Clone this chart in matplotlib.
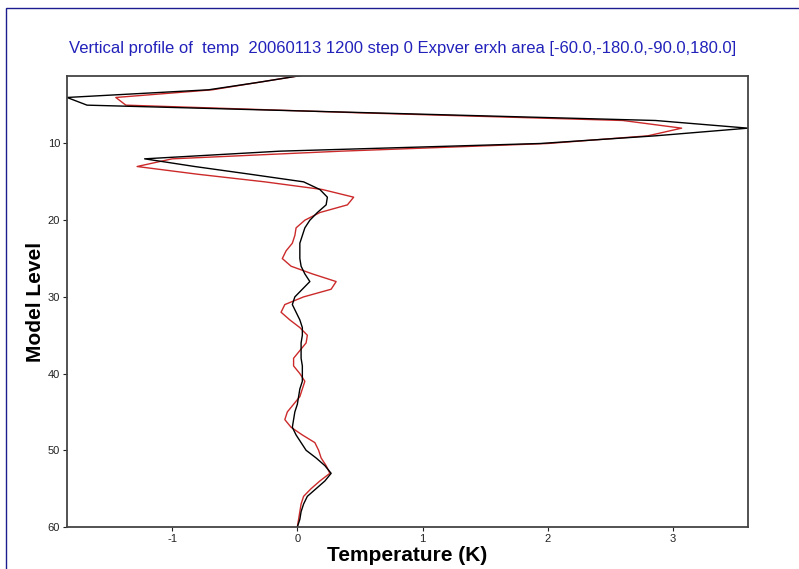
import matplotlib
matplotlib.use("Agg")
import matplotlib.pyplot as plt
from matplotlib.patches import Rectangle

# model levels 1..60 (top of atmosphere first)
levels = list(range(1, 61))

# temperature profile, experiment erxh (black)
temp_black = [
    0.08, -0.30, -0.71, -1.84, -1.68, 0.59, 2.86, 3.60, 2.86, 1.94,
    -0.14, -1.22, -0.82, -0.38, 0.05, 0.18, 0.24, 0.23, 0.16, 0.10,
    0.06, 0.04, 0.02, 0.02, 0.02, 0.03, 0.06, 0.10, 0.04, -0.02,
    -0.04, -0.01, 0.02, 0.04, 0.04, 0.03, 0.03, 0.03, 0.04, 0.04,
    0.04, 0.02, 0.01, 0.00, -0.02, -0.03, -0.04, -0.01, 0.03, 0.07,
    0.15, 0.22, 0.27, 0.22, 0.15, 0.08, 0.05, 0.03, 0.02, 0.00,
]

# temperature profile, second run (red)
temp_red = [
    0.08, -0.30, -0.68, -1.45, -1.37, 0.50, 2.60, 3.07, 2.80, 2.00,
    0.35, -1.00, -1.28, -0.80, -0.26, 0.20, 0.45, 0.40, 0.18, 0.06,
    -0.01, -0.02, -0.04, -0.09, -0.12, -0.05, 0.12, 0.31, 0.27, 0.05,
    -0.10, -0.13, -0.06, 0.02, 0.08, 0.07, 0.02, -0.03, -0.03, 0.02,
    0.06, 0.04, 0.02, -0.03, -0.08, -0.10, -0.05, 0.04, 0.14, 0.17,
    0.19, 0.23, 0.26, 0.18, 0.11, 0.05, 0.03, 0.02, 0.01, 0.00,
]

x_ticks = [-1, 0, 1, 2, 3]
y_ticks = [10, 20, 30, 40, 50, 60]

title = ("Vertical profile of  temp  20060113 1200 step 0 Expver erxh "
         "area [-60.0,-180.0,-90.0,180.0]")

plt.rcParams['font.family'] = ['Liberation Sans', 'DejaVu Sans']
plt.rcParams['axes.unicode_minus'] = False

fig = plt.figure(figsize=(7.99, 5.69), dpi=100)
ax = fig.add_axes([67 / 799, 42 / 569, 681 / 799, 451 / 569])

# page frame
fig.patches.append(Rectangle((6 / 799, -0.05), 1.2, 1.05 - 8 / 569,
                             transform=fig.transFigure, fill=False,
                             edgecolor='#1c1c8c', linewidth=1.0))

ax.plot(temp_red, levels, color='#cc2a2a', linewidth=1.0)
ax.plot(temp_black, levels, color='black', linewidth=1.0)

ax.set_xlim(-1.84, 3.6)
ax.set_ylim(60, 1.2)
ax.set_xticks(x_ticks)
ax.set_yticks(y_ticks)
ax.tick_params(axis='both', direction='out', length=3, width=0.8,
               labelsize=8, colors='#222222', pad=2)

for sp in ax.spines.values():
    sp.set_color('#444444')
    sp.set_linewidth(1.3)

ax.set_xlabel('Temperature (K)', fontsize=15, fontweight='bold', va='center')
ax.set_ylabel('Model Level', fontsize=15, fontweight='bold')
ax.xaxis.set_label_coords(0.5, -0.064)
ax.yaxis.set_label_coords(-0.032, 0.5)

fig.text(403 / 799, 1 - 48 / 569, title, color='#2222bb', fontsize=12,
         ha='center', va='center')

fig.savefig('out.png', dpi=100)
